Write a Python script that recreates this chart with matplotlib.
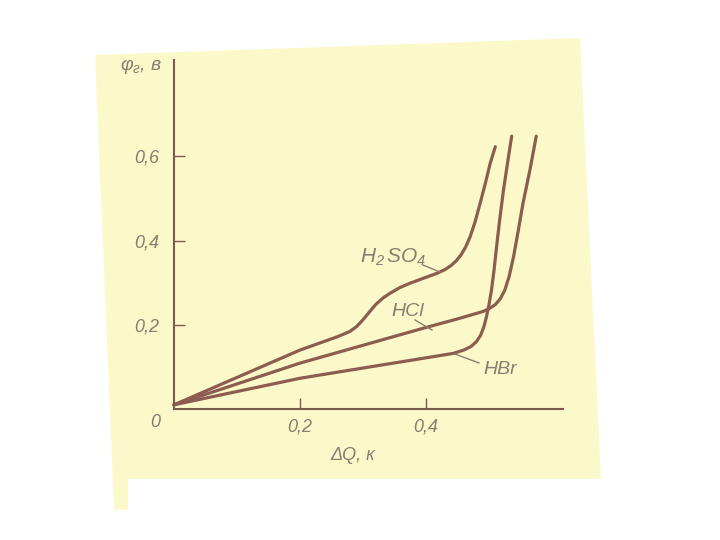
import matplotlib
matplotlib.use("Agg")
import matplotlib.pyplot as plt
from matplotlib.patches import Polygon

plt.rcParams['mathtext.fontset'] = 'custom'
plt.rcParams['mathtext.it'] = 'Liberation Sans:italic'
plt.rcParams['mathtext.rm'] = 'Liberation Sans:italic'

# Data
h2so4_x = [0.0, 0.100, 0.200, 0.260, 0.279, 0.290, 0.300, 0.310, 0.320, 0.332, 0.343, 0.358, 0.375,
           0.395, 0.417, 0.430, 0.440, 0.448, 0.456, 0.463, 0.470, 0.478, 0.486, 0.494, 0.502, 0.510]
h2so4_y = [0.010, 0.075, 0.140, 0.172, 0.184, 0.196, 0.212, 0.230, 0.248, 0.264, 0.275, 0.288, 0.299,
           0.310, 0.322, 0.331, 0.341, 0.352, 0.367, 0.385, 0.409, 0.445, 0.489, 0.535, 0.584, 0.623]
hcl_x = [0.0, 0.200, 0.396, 0.450, 0.480, 0.491, 0.500, 0.510, 0.518, 0.525, 0.532, 0.539,
         0.546, 0.554, 0.565, 0.575]
hcl_y = [0.010, 0.109, 0.192, 0.214, 0.227, 0.232, 0.238, 0.248, 0.262, 0.282, 0.315, 0.362,
         0.420, 0.489, 0.568, 0.648]
hbr_x = [0.0, 0.200, 0.443, 0.460, 0.472, 0.480, 0.487, 0.492, 0.496, 0.500, 0.504, 0.508,
         0.512, 0.517, 0.523, 0.530, 0.536]
hbr_y = [0.010, 0.073, 0.132, 0.140, 0.149, 0.160, 0.176, 0.196, 0.219, 0.248, 0.283, 0.330,
         0.385, 0.450, 0.520, 0.590, 0.648]

x_ticks = [0.2, 0.4]
x_tick_labels = ["0,2", "0,4"]
y_ticks = [0.2, 0.4, 0.6]
y_tick_labels = ["0,2", "0,4", "0,6"]

W, H = 720, 540
fig = plt.figure(figsize=(7.2, 5.4), dpi=100)
fig.patch.set_facecolor('white')

def fx(px):
    return px / W

def fy(py):
    return 1 - py / H

paper = Polygon([(fx(95), fy(55)), (fx(580), fy(38)), (fx(601), fy(479)),
                 (fx(128), fy(479)), (fx(128), fy(510)), (fx(114), fy(510))],
                closed=True, transform=fig.transFigure, facecolor='#fbf9c9',
                edgecolor='none', zorder=-10)
fig.patches.append(paper)

ax = fig.add_axes([fx(174), fy(409), (563 - 174) / W, (409 - 60) / H])
ax.set_zorder(5)
ax.set_facecolor('none')
ax.set_xlim(0, (563 - 174) / 630)
ax.set_ylim(0, (409 - 60) / 421)

line_color = '#8c5d4f'
axis_color = '#7d5a4e'
text_color = '#877e70'
font = 'Liberation Sans'

for xs, ys in [(h2so4_x, h2so4_y), (hcl_x, hcl_y), (hbr_x, hbr_y)]:
    ax.plot(xs, ys, color=line_color, lw=2.3, solid_joinstyle='round',
            solid_capstyle='round', clip_on=False)

for s in ['top', 'right']:
    ax.spines[s].set_visible(False)
for s in ['left', 'bottom']:
    ax.spines[s].set_color(axis_color)
    ax.spines[s].set_linewidth(1.5)

ax.set_xticks(x_ticks)
ax.set_xticklabels(x_tick_labels)
ax.set_yticks(y_ticks)
ax.set_yticklabels(y_tick_labels)
ax.tick_params(axis='both', direction='in', length=8, width=1.0, color=axis_color,
               labelcolor=text_color, labelsize=13)
ax.tick_params(axis='y', pad=11)
ax.tick_params(axis='x', pad=7)
for lab in ax.get_xticklabels() + ax.get_yticklabels():
    lab.set_fontfamily(font)
    lab.set_fontstyle('italic')

ax.text(-0.022, -0.012, "0", ha='right', va='top', color=text_color,
        fontsize=13, family=font, style='italic')
ax.text(-0.018, (409 - 66) / 421, r"$\varphi_{г}$, в", ha='right', va='center',
        color=text_color, fontsize=14, family=font, style='italic')
ax.text((353 - 174) / 630, (409 - 455) / 421, "ΔQ, к", ha='center', va='center',
        color=text_color, fontsize=13, family=font, style='italic', clip_on=False)

# curve labels with leader lines
ax.text((393 - 174) / 630, (409 - 257) / 421, r"$H_2\,SO_4$", ha='center', va='center',
        color=text_color, fontsize=15)
ax.plot([(423 - 174) / 630, (440 - 174) / 630], [(409 - 265) / 421, (409 - 272) / 421],
        color=text_color, lw=1.0)
ax.text((408 - 174) / 630, (409 - 312) / 421, "HCl", ha='center', va='center',
        color=text_color, fontsize=14, family=font, style='italic')
ax.plot([(415 - 174) / 630, (432 - 174) / 630], [(409 - 320) / 421, (409 - 330) / 421],
        color=text_color, lw=1.0)
ax.text((500 - 174) / 630, (409 - 370) / 421, "HBr", ha='center', va='center',
        color=text_color, fontsize=14, family=font, style='italic')
ax.plot([(479 - 174) / 630, (455 - 174) / 630], [(409 - 363) / 421, (409 - 354) / 421],
        color=text_color, lw=1.0)

fig.savefig('out.png', dpi=100)
